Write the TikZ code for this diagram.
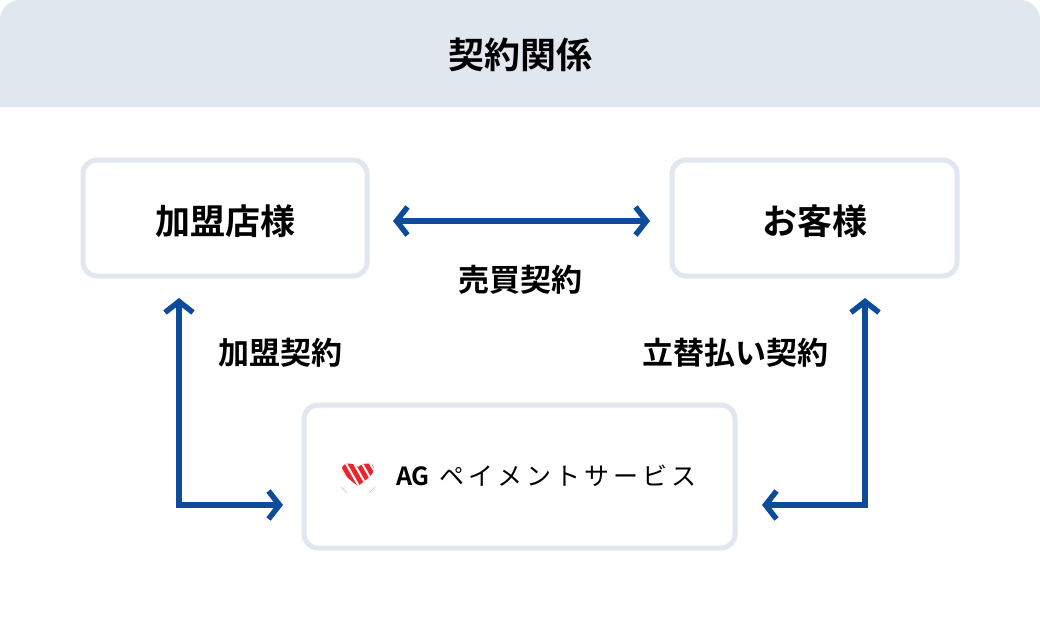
\documentclass[tikz,border=0pt]{standalone}
\usepackage{fontspec}
\setmainfont{Noto Sans CJK JP}[BoldFont={* Bold}]
\usetikzlibrary{arrows.meta}
\definecolor{hdr}{HTML}{E1E7EF}
\definecolor{arr}{HTML}{0D4C9A}
\definecolor{lred}{HTML}{E8242C}
\begin{document}
\begin{tikzpicture}[x=1pt,y=-1pt,
  box/.style={draw=hdr,line width=5pt,rounded corners=14pt,fill=white},
  lbl/.style={font=\bfseries\fontsize{35}{38}\selectfont},
  sub/.style={font=\bfseries\fontsize{31}{34}\selectfont},
  conn/.style={draw=arr,line width=5.5pt,{Straight Barb[length=11pt,width=28pt,line width=5.5pt]}-{Straight Barb[length=11pt,width=28pt,line width=5.5pt]}}]
\useasboundingbox (0,0) rectangle (1040,630);
\fill[white,rounded corners=20pt] (0,0) rectangle (1040,630);
\fill[hdr] (0,107) {[rounded corners=20pt] -- (0,0) -- (1040,0)} -- (1040,107) -- cycle;
\node[font=\bfseries\fontsize{36}{40}\selectfont] (title) at (520,55) {契約関係};
\draw[box] (83,160) rectangle (367,276);
\node[lbl] (kamei) at (225,221) {加盟店様};
\draw[box] (672,160) rectangle (957,276);
\node[lbl] (kyaku) at (815,221) {お客様};
\draw[box] (304,405) rectangle (735,548);
\node[font=\fontsize{25}{28}\selectfont,anchor=west,inner sep=0pt] (agtext) at (396,476) {\textbf{AG}\hspace{10pt}ペ\hspace{4pt}イ\hspace{4pt}メ\hspace{4pt}ン\hspace{4pt}ト\hspace{4pt}サ\hspace{4pt}ー\hspace{4pt}ビ\hspace{4pt}ス};
\begin{scope}[shift={(358,474)}]
\clip (0,12) .. controls (-8,6) and (-16,0) .. (-16,-5) .. controls (-16,-12) and (-6,-12) .. (0,-7) .. controls (6,-12) and (16,-12) .. (16,-5) .. controls (16,0) and (8,6) .. (0,12) -- cycle;
\fill[lred] (-20,-15) rectangle (20,15);
\foreach \i in {-16,-8,0,8,16} \draw[white,line width=2pt] (\i-6,-14) -- (\i+10,14);
\end{scope}
\draw[lred!40,line width=0.6pt] (341,487) -- (347,493) (375,487) -- (369,493);
\coordinate (ml) at (393,221); \coordinate (mr) at (650,221);
\draw[conn] (ml) -- (mr);
\node[sub] (baibai) at (520,280) {売買契約};
\coordinate (lt) at (179,298); \coordinate (lc) at (179,505); \coordinate (lr) at (283,505);
\draw[conn] (lt) -- (lc) -- (lr);
\node[sub] (kk) at (280,353) {加盟契約};
\coordinate (rt) at (865,298); \coordinate (rc) at (865,505); \coordinate (rl) at (762,505);
\draw[conn] (rt) -- (rc) -- (rl);
\node[sub] (tk) at (735,353) {立替払い契約};
\end{tikzpicture}
\end{document}
